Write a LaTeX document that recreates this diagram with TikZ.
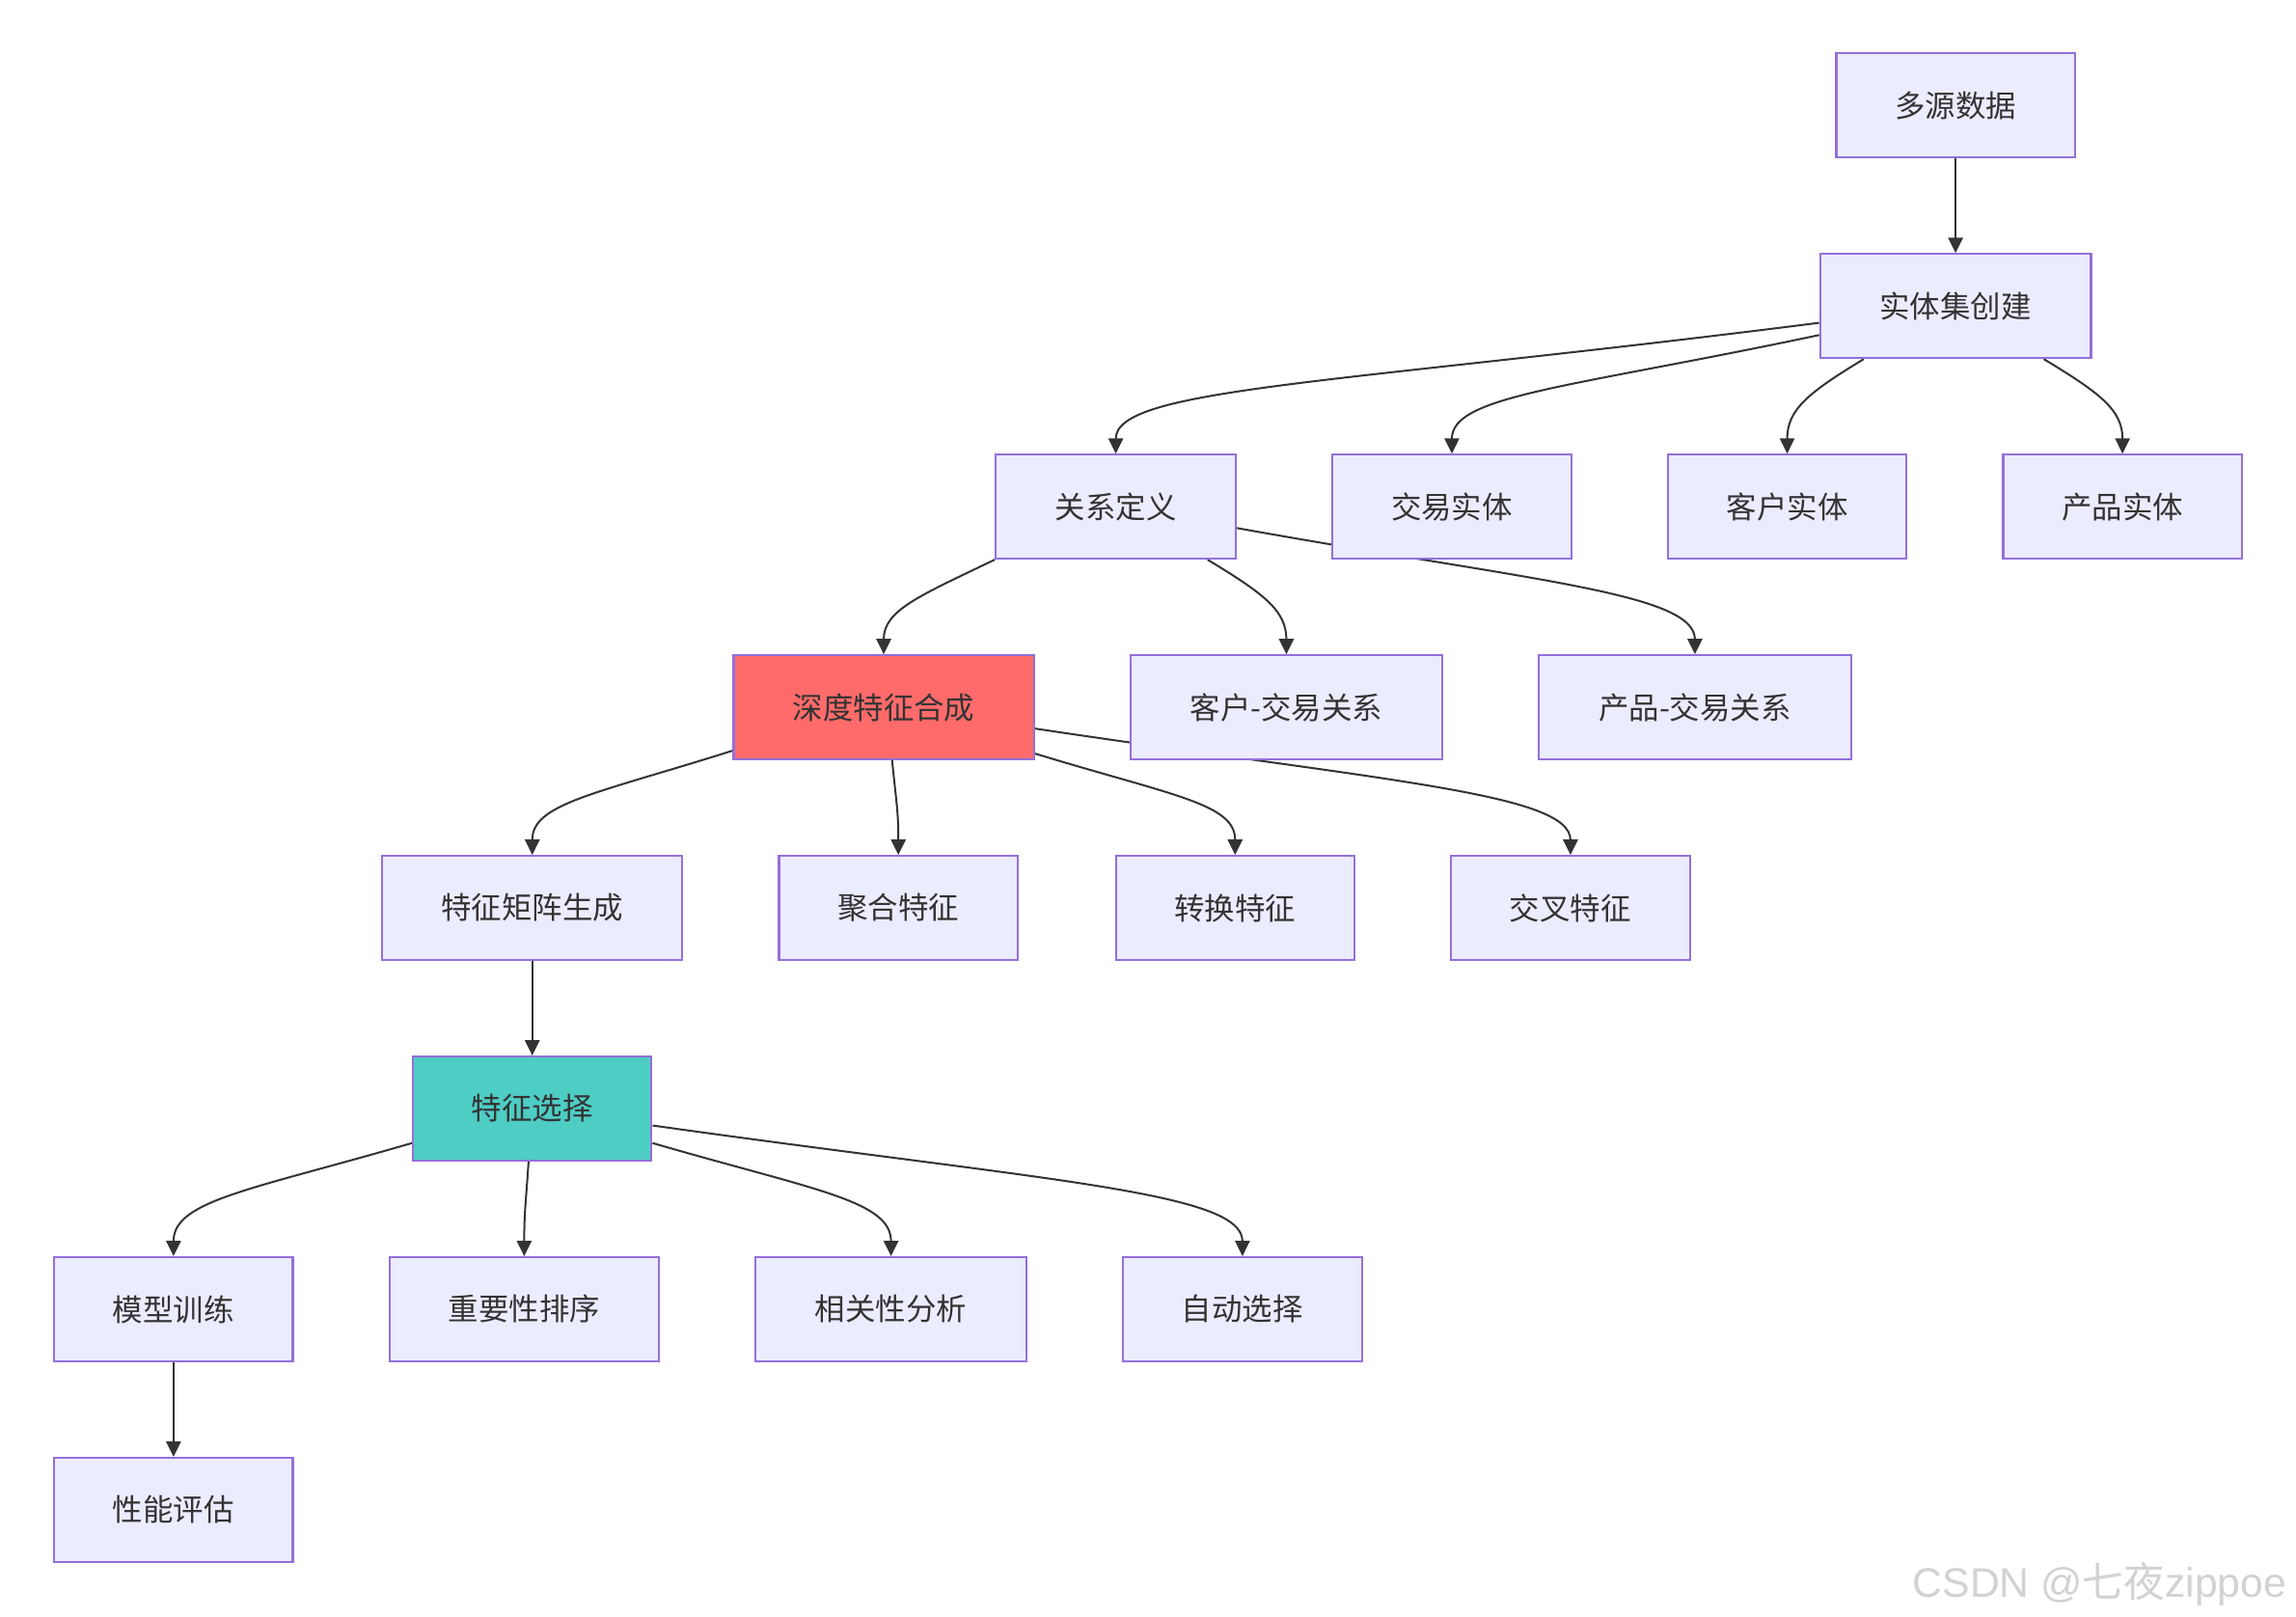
\documentclass[tikz,border=0pt]{standalone}
\usepackage{fontspec}
\setmainfont{Noto Sans CJK SC}
\newfontfamily\wmfont{Liberation Sans}
\newfontfamily\cjk{Noto Sans CJK SC}
\usetikzlibrary{arrows.meta,backgrounds}
\definecolor{nodefill}{HTML}{ECECFF}
\definecolor{nodeline}{HTML}{9370DB}
\definecolor{edgeline}{HTML}{333333}
\definecolor{synthfill}{HTML}{FF6B6B}
\definecolor{selfill}{HTML}{4ECDC4}
\definecolor{wmgray}{HTML}{D2D2D2}
\tikzset{
  box/.style={draw=nodeline, fill=nodefill, line width=0.8pt, minimum width=#1,
    minimum height=1.42cm, inner sep=0pt, text=edgeline,
    font=\fontsize{11.8}{14}\selectfont},
  box/.default=3.26cm,
  flow/.style={draw=edgeline, line width=0.75pt, -{Triangle[length=0.21cm,width=0.2cm]}},
}
\begin{document}
\begin{tikzpicture}[x=0.02cm, y=-0.02cm]
    \useasboundingbox (0,0) rectangle (1568,1104);
    % nodes
    \node[box] (src) at (1335.5,72) {多源数据};
    \node[box=3.7cm] (entset) at (1335.5,209) {实体集创建};
    \node[box=3.28cm] (reldef) at (762,346) {关系定义};
    \node[box] (trans) at (991.5,346) {交易实体};
    \node[box] (cust) at (1220.5,346) {客户实体};
    \node[box] (prod) at (1449.5,346) {产品实体};
    \node[box=4.1cm, fill=synthfill] (dfs) at (603.5,483) {深度特征合成};
    \node[box=4.26cm] (custrel) at (878.5,483) {客户-交易关系};
    \node[box=4.26cm] (prodrel) at (1157.5,483) {产品-交易关系};
    \node[box=4.1cm] (matrix) at (363.5,620) {特征矩阵生成};
    \node[box] (agg) at (613.5,620) {聚合特征};
    \node[box] (transf) at (843.5,620) {转换特征};
    \node[box] (cross) at (1072.5,620) {交叉特征};
    \node[box, fill=selfill] (fsel) at (363.5,757) {特征选择};
    \node[box] (train) at (118.5,894) {模型训练};
    \node[box=3.68cm] (imp) at (358,894) {重要性排序};
    \node[box=3.7cm] (corr) at (608.5,894) {相关性分析};
    \node[box] (auto) at (848.5,894) {自动选择};
    \node[box] (eval) at (118.5,1031) {性能评估};
    % watermark
    \node[anchor=base west, inner sep=0pt, text=wmgray, font=\wmfont\fontsize{16}{18}\selectfont]
        (mark) at (1306,1091) {CSDN @{\cjk 七夜}zippoe};
    % connectors, kept under the boxes
    \begin{pgfonlayer}{background}
        \draw[flow] (src) -- (entset);
        \draw[flow] (entset.187) .. controls +(-330,42) and +(0,-45) .. (reldef.north);
        \draw[flow] (entset.192) .. controls +(-170,36) and +(0,-40) .. (trans.north);
        \draw[flow] (entset.210) .. controls +(-38,23) and +(0,-30) .. (cust.north);
        \draw[flow] (entset.329) .. controls +(38,23) and +(0,-30) .. (prod.north);
        \draw[flow] (reldef.south west) .. controls +(-52,25) and +(0,-30) .. (dfs.north);
        \draw[flow] (reldef.330) .. controls +(38,23) and +(0,-30) .. (custrel.north);
        \draw[flow] (reldef.350) .. controls +(200,36) and +(0,-42) .. (prodrel.north);
        \draw[flow] (dfs.196) .. controls +(-95,30) and +(0,-35) .. (matrix.north);
        \draw[flow] (dfs.279) .. controls +(3,30) and +(0,-30) .. (agg.north);
        \draw[flow] (dfs.343) .. controls +(95,29) and +(0,-35) .. (transf.north);
        \draw[flow] (dfs.352) .. controls +(240,36) and +(0,-42) .. (cross.north);
        \draw[flow] (matrix) -- (fsel);
        \draw[flow] (fsel.196) .. controls +(-110,32) and +(0,-38) .. (train.north);
        \draw[flow] (fsel.266) .. controls +(-2,30) and +(0,-30) .. (imp.north);
        \draw[flow] (fsel.344) .. controls +(110,32) and +(0,-38) .. (corr.north);
        \draw[flow] (fsel.352) .. controls +(270,38) and +(0,-44) .. (auto.north);
        \draw[flow] (train) -- (eval);
    \end{pgfonlayer}
\end{tikzpicture}
\end{document}
